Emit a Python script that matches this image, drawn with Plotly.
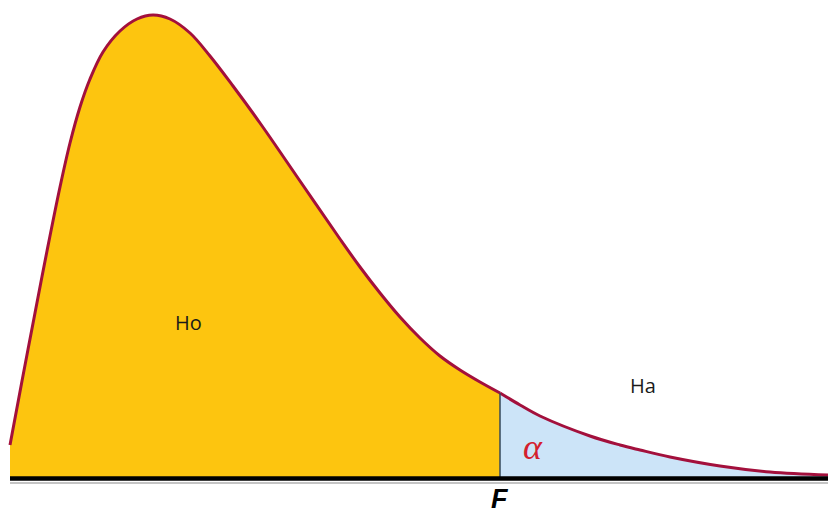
import plotly.graph_objects as go

# curve: x position and density height (pixels above the axis)
ho_x = [10, 22, 35, 47, 60, 70, 80, 90, 103, 120, 137, 153, 170, 190, 210, 233, 260,
        300, 340, 360, 380, 400, 420, 440, 460, 480, 500]
ho_y = [32, 96, 164, 226, 290, 334, 370, 398, 425, 446, 458, 462, 458, 444, 421, 391, 354,
        296, 238, 210, 184, 160, 139, 121, 107, 95, 84]
ha_x = [500, 520, 540, 590, 620, 640, 670, 720, 770, 828]
ha_y = [84, 72, 61, 41, 32, 27, 20, 11, 5, 2]
axis_x = [10, 828]

COLORS = {
    "ho": "#FDC50F",
    "ha": "#CCE4F8",
    "curve": "#A3103C",
    "alpha": "#D4202E",
}

fig = go.Figure()
fig.add_trace(go.Scatter(
    x=ho_x, y=ho_y, mode="lines", line_shape="spline",
    line=dict(color=COLORS["curve"], width=3, smoothing=1.0),
    fill="tozeroy", fillcolor=COLORS["ho"],
))
fig.add_trace(go.Scatter(
    x=ha_x, y=ha_y, mode="lines", line_shape="spline",
    line=dict(color=COLORS["curve"], width=3, smoothing=1.0),
    fill="tozeroy", fillcolor=COLORS["ha"],
))
# critical value line
fig.add_trace(go.Scatter(
    x=[ho_x[-1], ho_x[-1]], y=[0, ho_y[-1]], mode="lines",
    line=dict(color="#34495A", width=1.5),
))
# axis with faint shadow
fig.add_trace(go.Scatter(
    x=axis_x, y=[-6, -6], mode="lines", line=dict(color="#B0B0B0", width=1.5),
))
fig.add_trace(go.Scatter(
    x=axis_x, y=[-1.5, -1.5], mode="lines", line=dict(color="black", width=4.5),
))

fig.add_annotation(x=188, y=155, text="Ho", showarrow=False,
                   font=dict(family="Open Sans", size=20, color="#1a1a1a"))
fig.add_annotation(x=643, y=92, text="Ha", showarrow=False,
                   font=dict(family="Open Sans", size=20, color="#1a1a1a"))
fig.add_annotation(x=533, y=30, text="<i>α</i>", showarrow=False,
                   font=dict(family="Liberation Serif", size=36, color=COLORS["alpha"]))
fig.add_annotation(x=500, y=-22, text="<b><i>F</i></b>", showarrow=False,
                   font=dict(family="Liberation Sans", size=27, color="black"))

fig.update_layout(
    width=832, height=517,
    margin=dict(l=0, r=0, t=0, b=0),
    paper_bgcolor="white", plot_bgcolor="white",
    showlegend=False,
    xaxis=dict(range=[0, 832], visible=False, fixedrange=True),
    yaxis=dict(range=[-40, 477], visible=False, fixedrange=True),
)
fig.write_html("out.html", config={"displayModeBar": False},
               post_script="document.body.style.margin='0px';")
